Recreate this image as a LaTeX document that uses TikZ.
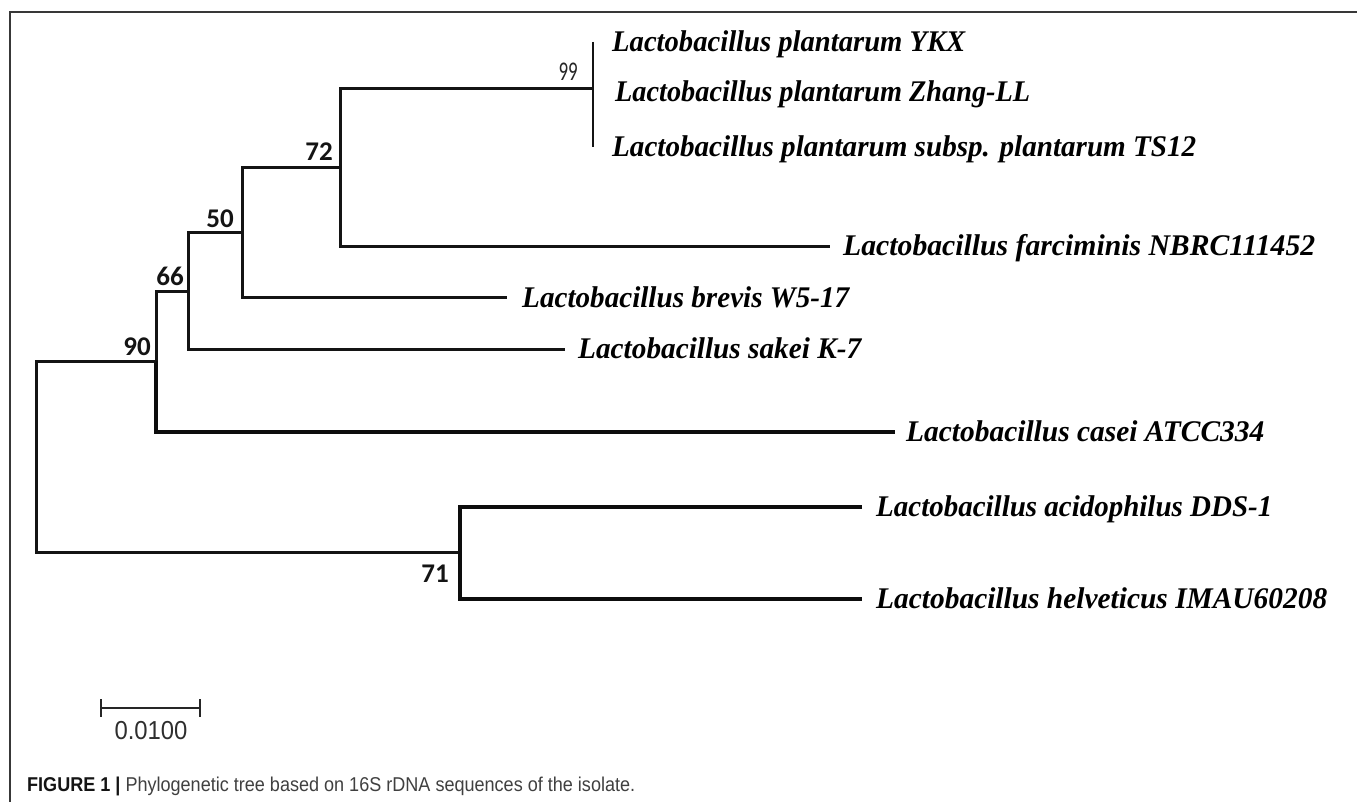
\documentclass[tikz,border=0pt]{standalone}
\usepackage{fontspec}
\usepackage{graphicx}
\setmainfont{Liberation Serif}
\newfontfamily\spfont{Liberation Serif}
\newfontfamily\bsfont{Carlito}
\newfontfamily\capfont{Liberation Sans}
\tikzset{
  br/.style={line width=3pt, draw=black!92},
  brthick/.style={line width=4pt, draw=black!95},
  brthin/.style={line width=2.4pt, draw=black!92},
  leaf/.style={anchor=base west, inner sep=0pt, font=\spfont\bfseries\itshape\fontsize{30}{32}\selectfont},
  boot/.style={anchor=east, inner sep=0pt, text=black!92, font=\bsfont\bfseries\fontsize{27}{29}\selectfont},
  bootlight/.style={anchor=east, inner sep=0pt, text=black!85, font=\bsfont\fontsize{27}{29}\selectfont},
  framebox/.style={line width=1.6pt, draw=black!78},
  scalebar/.style={line width=2.6pt, draw=black!85},
}
\begin{document}
\begin{tikzpicture}[x=1pt, y=-1pt]
\useasboundingbox (0,0) rectangle (1357,802);
% frame
\coordinate (fBL) at (10,802);
\coordinate (fTL) at (10,12);
\coordinate (fTR) at (1357,12);
\draw[framebox] (fBL) -- (fTL) -- (fTR);

% internal nodes (x of vertical line, y where parent branch enters)
\coordinate (root) at (36,456);
\coordinate (n90) at (156,361);
\coordinate (n66) at (188,292);
\coordinate (n50) at (242,233);
\coordinate (n72) at (340,168);
\coordinate (n99) at (593,89);
\coordinate (n71) at (460,552);

% leaf tips
\coordinate (tYKX) at (593,42);
\coordinate (tTS) at (593,147);
\coordinate (tFarc) at (830,247);
\coordinate (tBrev) at (507,298);
\coordinate (tSak) at (565,349);
\coordinate (tCas) at (895,432);
\coordinate (tAci) at (862,507);
\coordinate (tHel) at (862,599);

% branches
\draw[brthin] (tYKX) -- (tTS);
\draw[br] (n99) -| (n72) |- (tFarc);
\draw[br] (n72) -| (n50) |- (tBrev);
\draw[br] (n50) -| (n66) |- (tSak);
\draw[br] (n66) -| (n90);
\draw[brthick] (n90) |- (tCas);
\draw[br] (n90) -| (root) |- (n71);
\draw[brthick] (tAci) -| (n71) |- (tHel);

% bootstrap values
\node[bootlight] (b99) at (578,72) {\scalebox{0.7}[1]{99}};
\node[boot] (b72) at (333,152) {72};
\node[boot] (b50) at (234,219) {50};
\node[boot] (b66) at (184,276) {66};
\node[boot] (b90) at (151,347) {90};
\node[boot] (b71) at (449,574) {71};

% leaf labels
\node[leaf] (lYKX) at (612,52) {\resizebox{353pt}{\height}{Lactobacillus plantarum YKX}};
\node[leaf] (lZhang) at (615,102) {\resizebox{415pt}{\height}{Lactobacillus plantarum Zhang-LL}};
\node[leaf] (lTS) at (612,157) {\resizebox{584pt}{\height}{Lactobacillus plantarum subsp. plantarum TS12}};
\node[leaf] (lFarc) at (843,256) {\resizebox{472pt}{\height}{Lactobacillus farciminis NBRC111452}};
\node[leaf] (lBrev) at (522,307) {\resizebox{327pt}{\height}{Lactobacillus brevis W5-17}};
\node[leaf] (lSak) at (578,358) {\resizebox{283pt}{\height}{Lactobacillus sakei K-7}};
\node[leaf] (lCas) at (906,441) {\resizebox{358pt}{\height}{Lactobacillus casei ATCC334}};
\node[leaf] (lAci) at (876,516) {\resizebox{396pt}{\height}{Lactobacillus acidophilus DDS-1}};
\node[leaf] (lHel) at (876,608) {\resizebox{451pt}{\height}{Lactobacillus helveticus IMAU60208}};

% scale bar
\coordinate (sbL) at (101,708);
\coordinate (sbR) at (200,708);
\coordinate (sbLt) at (101,699);
\coordinate (sbLb) at (101,717);
\coordinate (sbRt) at (200,699);
\coordinate (sbRb) at (200,717);
\draw[scalebar] (sbL) -- (sbR);
\draw[scalebar] (sbLt) -- (sbLb);
\draw[scalebar] (sbRt) -- (sbRb);
\node[inner sep=0pt, text=black!82, font=\capfont\fontsize{26}{28}\selectfont] (sbLab) at (151,731) {\resizebox{73pt}{\height}{0.0100}};

% caption
\node[anchor=base west, inner sep=0pt, font=\capfont\fontsize{20}{22}\selectfont] (cap) at (27,791)
  {\resizebox{608pt}{\height}{\textcolor{black!92}{\bfseries FIGURE 1 |} \textcolor{black!75}{Phylogenetic tree based on 16S rDNA sequences of the isolate.}}};
\end{tikzpicture}
\end{document}
